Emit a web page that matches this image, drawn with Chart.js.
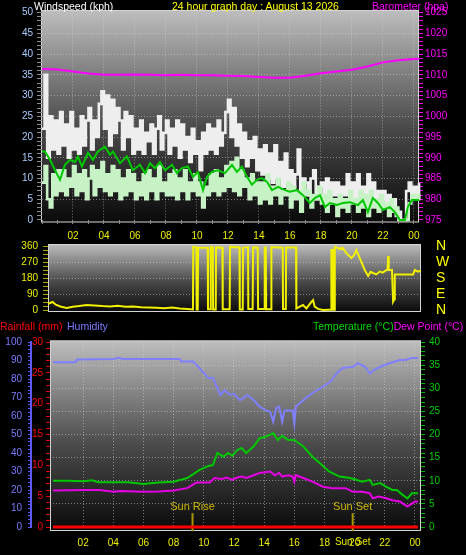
<!DOCTYPE html>
<html lang="en">
<head>
<meta charset="UTF-8">
<title>24 hour graph day</title>
<script src="https://cdn.jsdelivr.net/npm/chart.js@4.4.1/dist/chart.umd.min.js"></script>
<style>
  html, body { margin: 0; padding: 0; background: #000; width: 466px; height: 555px; overflow: hidden; }
  #wrap { position: relative; width: 466px; height: 555px; font-family: "Liberation Sans", Arial, sans-serif; }
  canvas { position: absolute; left: 0; top: 0; }
  .lbl { position: absolute; font-size: 10.5px; line-height: 13px; white-space: nowrap; }
</style>
</head>
<body>
<div id="wrap">
  <canvas id="windChart" width="466" height="555"></canvas>
  <canvas id="dirChart" width="466" height="555"></canvas>
  <canvas id="tempChart" width="466" height="555"></canvas>

  <div class="lbl" style="left:34px; top:0; color:#ffffff">Windspeed (kph)</div>
  <div class="lbl" style="left:172px; top:0; color:#ffff00">24 hour graph day : August 13 2026</div>
  <div class="lbl" style="left:372px; top:0; color:#ff00ff">Barometer (hpa)</div>
  <div class="lbl" style="left:0; top:320px; color:#ff0000">Rainfall (mm)</div>
  <div class="lbl" style="left:67px; top:320px; color:#7b7bff">Humidity</div>
  <div class="lbl" style="left:313px; top:320px"><span style="color:#00dd00">Temperature (°C)</span><span style="color:#ff00ff">Dew Point (°C)</span></div>
</div>

<script>
  // ---- wind, 10 minute readings from 00:00 ----
  const gustKph = [
    22, 35, 15, 25, 17, 24,  16, 26, 18, 23, 15, 26,  17, 22, 16, 25, 18, 24,
    27, 17, 24, 20, 28, 31,  22, 30, 18, 29, 21, 27,  24, 17, 26, 20, 25, 16,
    22, 17, 24, 16, 21, 19,  23, 16, 22, 25, 17, 21,  24, 16, 22, 18, 24, 15,
    23, 17, 20, 14, 22, 16,  19, 12, 21, 16, 23, 17,  22, 16, 24, 18, 21, 26,
    29, 20, 27, 18, 23, 15,  21, 13, 19, 15, 20, 12,  17, 11, 18, 10, 16, 9,
    18, 10, 14, 8, 16, 9,    12, 8, 11, 17, 7, 10,    9, 6, 10, 12, 5, 8,
    9, 5, 10, 4, 9, 6,       9, 4, 8, 6, 11, 5,       9, 5, 11, 4, 8, 5,
    11, 5, 9, 4, 7, 5,       7, 3, 6, 2, 5, 1,        2, 0, 0, 7, 9, 6,
    8, 5, 9
  ];
  const windKph = [
    9, 13, 5, 3, 11, 6,      12, 7, 12, 6, 10, 8,     13, 6, 11, 7, 12, 5,
    10, 13, 6, 12, 8, 14,    7, 11, 6, 13, 7, 12,     5, 10, 6, 12, 7, 11,
    5, 9, 6, 11, 5, 12,      7, 10, 5, 13, 7, 9,      6, 11, 6, 12, 5, 10,
    7, 12, 5, 9, 7, 11,      6, 9, 3, 8, 6, 11,       7, 12, 6, 10, 7, 13,
    8, 14, 7, 15, 6, 12,     8, 10, 5, 11, 6, 9,      4, 9, 5, 11, 4, 8,
    6, 10, 4, 7, 6, 9,       3, 8, 5, 7, 2, 9,        6, 7, 3, 6, 5, 8,
    4, 6, 2, 7, 4, 5,        1, 6, 3, 5, 2, 7,        4, 5, 2, 7, 3, 6,
    1, 7, 3, 5, 2, 6,        3, 4, 1, 5, 2, 3,        0, 0, 0, 0, 4, 6,
    5, 6, 5
  ];
  const avgHours = [0, 0.19, 0.52, 0.84, 1.16, 1.48, 1.81, 2.13, 2.32, 2.58, 2.97, 3.29, 3.61, 4.06, 4.39, 4.58,
    5.03, 5.48, 5.87, 6.32, 6.65, 6.97, 7.29, 7.61, 7.94, 8.39, 8.71, 9.03, 9.42, 9.74, 10.06, 10.39, 10.65,
    10.97, 11.35, 11.81, 12.26, 12.58, 12.9, 13.23, 13.55, 13.87, 14.19, 14.52, 14.84, 15.23, 15.68, 16.0,
    16.45, 16.84, 17.29, 17.61, 17.94, 18.26, 18.58, 19.03, 19.42, 19.87, 20.39, 20.71, 21.03, 21.35, 21.68,
    22.0, 22.45, 22.77, 23.1, 23.42, 23.61, 23.87, 24.19, 24.33];
  const avgKph = [16.5, 16.5, 14.5, 12, 9.7, 13.3, 14.5, 14, 15.3, 12.9, 16.2, 14.5, 16.5, 17.7, 15.7, 16.5,
    13.7, 15.3, 12, 13.3, 11.3, 13.7, 12.5, 14, 12, 13.3, 11.3, 12.5, 12.9, 10.4, 11.6, 7.2, 10.4,
    11.6, 12, 11.3, 13.3, 11.6, 12.9, 10.4, 8.5, 9.7, 10.1, 9.2, 7.2, 8, 7.2, 6.8,
    7.2, 6, 4.1, 5.3, 6, 3.1, 4.1, 3.6, 4.1, 4.3, 3.6, 4.8, 1.9, 5.3, 4.1,
    2.4, 3.1, 1.9, 0, 0, 3.1, 4.8, 4.8, 4.8];

  // ---- barometer ----
  const baroHours = [0, 1, 2, 3, 4, 5, 6, 7, 8, 9, 10, 11, 12, 13, 14, 15, 16, 17, 18, 19, 20, 21, 22, 23, 24, 24.33];
  const baroHpa = [1011.4, 1011.3, 1010.8, 1010.3, 1010.0, 1010.0, 1010.1, 1010.0, 1009.9, 1010.0, 1009.9, 1009.9,
    1009.8, 1009.7, 1009.5, 1009.3, 1009.3, 1009.8, 1010.4, 1010.8, 1011.2, 1012.0, 1013.0, 1013.5, 1013.8, 1013.9];

  // ---- wind direction ----
  const dirHours = [0, 0.3, 0.5, 0.8, 1.2, 1.6, 2.0, 2.5, 3.0, 3.5, 4.0, 4.5, 5.0, 5.5, 6.0, 6.5, 7.0, 7.5, 8.0,
    8.5, 9.0, 9.35, 9.37, 9.57, 9.59, 9.66, 9.68, 10.3, 10.32, 10.48, 10.5, 10.63, 10.65, 10.82, 10.84, 11.25,
    11.27, 11.72, 11.74, 12.35, 12.37, 12.56, 12.58, 12.9, 12.92, 13.2, 13.23, 13.53, 13.55, 13.96, 13.98, 14.05,
    14.07, 14.39, 14.41, 15.14, 15.16, 15.34, 15.36, 16.0, 16.02, 16.24, 16.45, 16.67, 16.99, 17.1, 17.2, 17.42,
    17.74, 18.17, 18.26, 18.28, 18.37, 18.39, 18.48, 18.5, 18.82, 19.0, 19.25, 19.57, 19.75, 19.89, 20.11, 20.43,
    20.65, 20.8, 20.97, 21.18, 21.4, 21.6, 21.83, 21.9, 21.94, 21.98, 22.19, 22.26, 22.33, 22.37, 23.55, 23.66,
    23.87, 24.06];
  const dirDeg = [35, 45, 30, 20, 12, 18, 22, 28, 25, 22, 20, 24, 18, 20, 15, 14, 12, 10, 14,
    8, 5, 3, 355, 352, 3, 3, 352, 350, 4, 4, 354, 352, 3, 3, 352, 350,
    4, 4, 355, 352, 3, 3, 350, 354, 5, 5, 352, 350, 6, 6, 352, 352,
    4, 4, 354, 350, 6, 6, 352, 352, 8, 19, 28, 9, 45, 56, 19, 6,
    0, 2, 2, 337, 337, 2, 2, 356, 343, 350, 320, 292, 310, 337, 292, 225,
    191, 215, 208, 200, 216, 210, 225, 225, 304, 225, 225, 47, 60, 200, 200, 225,
    216, 222];
  const compassLetters = ['N', 'E', 'S', 'W', 'N'];

  // ---- humidity / temperature / dew point / rain ----
  const humHours = [0, 1.5, 1.6, 4.0, 4.4, 4.6, 8.4, 8.5, 9.3, 9.8, 10.3, 10.6, 11.1, 11.4, 11.7, 12.0, 12.4,
    12.9, 13.3, 13.7, 14.1, 14.4, 14.6, 14.8, 15.0, 15.2, 15.35, 15.6, 15.9, 16.0, 16.1, 16.6, 17.2, 17.9, 18.4,
    18.8, 19.2, 19.9, 20.2, 20.7, 21.0, 21.3, 21.7, 22.3, 23.0, 23.4, 23.8, 24.2];
  const humPct = [89, 89, 90.5, 90.8, 91.5, 90.8, 90.8, 89.5, 89.5, 85, 80.5, 80.5, 71.4, 74, 71.5, 72, 68.6,
    71.4, 68.6, 65, 63.2, 62.3, 57, 64.3, 65, 57, 63, 63, 63, 56, 65, 68.6, 72.4, 75.8, 78.6,
    83, 86, 86.6, 88.5, 86.6, 83, 85, 86.6, 88.5, 90.3, 90.3, 91.4, 91.4];

  const tempHours = [0, 1, 2, 2.6, 3, 5, 6, 6.3, 7, 8, 8.9, 9.7, 10.3, 10.6, 10.9, 11.3, 11.6, 11.9, 12.2, 12.5,
    12.8, 13.3, 13.7, 14.1, 14.6, 14.9, 15.2, 15.6, 16.0, 16.6, 17.2, 17.7, 18.3, 19.0, 19.7, 20.1, 20.5, 21.0,
    21.2, 21.7, 22.1, 22.5, 22.8, 23.2, 23.5, 23.8, 24.2];
  const tempC = [10.0, 10.0, 9.9, 10.1, 9.7, 9.7, 9.3, 9.4, 9.6, 9.8, 10.6, 12.3, 13.2, 13.4, 16, 15.2, 16, 15.4, 16.6, 17.1,
    16, 17.4, 19.2, 19.5, 20.3, 18.8, 19.7, 18.8, 18.8, 17.4, 15.2, 13.8, 12, 10.9, 10.6, 10.2, 9.8, 10.2,
    9.1, 9.5, 8.7, 8.0, 8.0, 6.9, 6.2, 7.3, 7.3];

  const dewHours = [0, 2, 3.1, 4, 4.5, 6, 7, 8, 8.9, 9.5, 10.4, 10.7, 11.2, 11.5, 11.9, 12.2, 12.5, 12.8, 13.3,
    13.7, 14.4, 14.7, 15.0, 15.2, 15.6, 15.9, 16.0, 16.1, 16.6, 17.2, 17.9, 18.5, 19.4, 19.9, 20.5, 21.0, 21.2,
    21.6, 22.1, 22.5, 23.0, 23.5, 24.0, 24.2];
  const dewC = [7.9, 8.0, 8.0, 7.6, 7.8, 7.6, 7.7, 7.9, 8.4, 9.6, 9.6, 10.6, 10.4, 10.7, 10.2, 10.7, 10.9, 10.6, 11.2,
    11.7, 12.0, 11.2, 11.7, 10.9, 11.2, 10.9, 9.8, 11.2, 10.6, 9.8, 8.7, 8.4, 8.4, 7.6, 7.6, 7.3, 6.2,
    6.6, 6.2, 5.8, 5.5, 4.4, 5.5, 5.5];

  const rainHours = [0, 24.2];
  const rainMm = [0, 0];

  const sunHours = [9.25, 19.87];
  const sunNames = ['Sun Rise', 'Sun Set'];

  // ---- helpers ----
  Chart.defaults.font.family = '"Liberation Sans", Arial, sans-serif';
  Chart.defaults.font.size = 10;

  const CLEAR = 'rgba(0,0,0,0)';
  const GRID = 'rgba(215,215,215,0.5)';

  function pts(xs, ys) {
    return xs.map((x, i) => ({ x: x, y: ys[i] }));
  }
  function tenMinute(values) {
    return values.map((v, i) => ({ x: i / 6, y: v }));
  }
  function hh(v) {
    const h = Math.round(v) % 24;
    return (h < 10 ? '0' : '') + h;
  }
  function tickVal(c) {
    return c && c.tick ? c.tick.value : NaN;
  }

  // gradient plot background with a light frame
  const panelBg = {
    id: 'panelBg',
    beforeDraw(chart, args, opts) {
      const { ctx, chartArea: a } = chart;
      const x0 = a.left - (opts.l || 0), x1 = a.right + (opts.r || 0);
      const y0 = a.top - (opts.t || 0), y1 = a.bottom + (opts.b || 0);
      const g = ctx.createLinearGradient(0, y0, 0, y1);
      g.addColorStop(0, '#bebebe');
      g.addColorStop(0.55, '#4a4a4a');
      g.addColorStop(1, '#0a0a0a');
      ctx.save();
      ctx.fillStyle = g;
      ctx.fillRect(x0, y0, x1 - x0, y1 - y0);
      ctx.strokeStyle = '#d4d4d4';
      ctx.lineWidth = 1;
      ctx.strokeRect(x0 + 0.5, y0 + 0.5, x1 - x0 - 1, y1 - y0 - 1);
      ctx.restore();
    }
  };

  const baseOpts = {
    responsive: false,
    animation: false,
    devicePixelRatio: 1,
    events: [],
    plugins: { legend: { display: false }, tooltip: { enabled: false } }
  };

  // ================= wind speed + barometer =================
  new Chart(document.getElementById('windChart'), {
    type: 'line',
    data: {
      datasets: [
        { label: 'Average', data: pts(avgHours, avgKph), yAxisID: 'y', borderColor: '#00c800', borderWidth: 2, pointRadius: 0, clip: 4 },
        { label: 'Wind', data: tenMinute(windKph), yAxisID: 'y', borderColor: '#c6f2c6', borderWidth: 2.6, pointRadius: 0, stepped: true, clip: 4 },
        { label: 'Gust', data: tenMinute(gustKph), yAxisID: 'y', borderColor: '#eeeeee', borderWidth: 2.6, pointRadius: 0, stepped: true, clip: 4 },
        { label: 'Barometer', data: pts(baroHours, baroHpa), yAxisID: 'baro', borderColor: '#ff00ff', borderWidth: 2, pointRadius: 0, clip: 4 }
      ]
    },
    options: Object.assign({}, baseOpts, {
      layout: { padding: { top: 12.6, bottom: 315, left: 0, right: 0 } },
      plugins: Object.assign({}, baseOpts.plugins, { panelBg: { t: 2.6, b: 2.5, l: 1, r: 0 } }),
      scales: {
        x: {
          type: 'linear', min: 0, max: 24.33,
          afterFit: s => { s.height = 20; },
          grid: {
            color: c => (tickVal(c) % 2 === 0 && tickVal(c) > 0) ? GRID : CLEAR,
            tickColor: '#8c8c8c', tickLength: 4
          },
          border: { display: false, dash: [1, 2] },
          ticks: {
            stepSize: 1, autoSkip: false, includeBounds: false, maxRotation: 0,
            color: '#eeee00', padding: 6,
            callback: v => (v % 2 === 0 && v > 0) ? hh(v) : ''
          }
        },
        y: {
          position: 'left', min: 0, max: 50,
          afterFit: s => { s.width = 42; },
          grid: {
            color: c => (tickVal(c) % 5 === 0 && tickVal(c) > 0 && tickVal(c) < 50) ? GRID : CLEAR,
            tickColor: '#8c8c8c', tickLength: 5
          },
          border: { display: false, dash: [1, 2] },
          ticks: {
            stepSize: 1, autoSkip: false, color: '#a8ccff', padding: 4,
            callback: v => v % 5 === 0 ? String(v) : ''
          }
        },
        baro: {
          position: 'right', min: 975, max: 1025,
          afterFit: s => { s.width = 47; },
          grid: { drawOnChartArea: false, tickColor: '#ff00ff', tickLength: 4 },
          border: { display: false },
          ticks: {
            stepSize: 1, autoSkip: false, color: '#ff00ff', padding: 2,
            callback: v => v % 5 === 0 ? String(v) : ''
          }
        }
      }
    }),
    plugins: [panelBg]
  });

  // ================= wind direction =================
  new Chart(document.getElementById('dirChart'), {
    type: 'line',
    data: {
      datasets: [
        { label: 'Direction', data: pts(dirHours, dirDeg), yAxisID: 'y', borderColor: '#f0f000', borderWidth: 2, pointRadius: 0, clip: 4 }
      ]
    },
    options: Object.assign({}, baseOpts, {
      layout: { padding: { top: 246, bottom: 245, left: 0, right: 0 } },
      plugins: Object.assign({}, baseOpts.plugins, { panelBg: { t: 2, b: 2, l: 0, r: 0 } }),
      scales: {
        x: { type: 'linear', display: false, min: 0, max: 24.06 },
        y: {
          position: 'left', min: 0, max: 360,
          afterFit: s => { s.width = 48; },
          grid: {
            color: c => (tickVal(c) % 90 === 0 && tickVal(c) > 0 && tickVal(c) < 360) ? GRID : CLEAR,
            tickColor: '#a8a800', tickLength: 5
          },
          border: { display: false, dash: [1, 2] },
          ticks: {
            stepSize: 22.5, autoSkip: false, color: '#eeee00', padding: 5,
            callback: v => v % 90 === 0 ? String(v) : ''
          }
        },
        compass: {
          position: 'right', min: 0, max: 360,
          afterFit: s => { s.width = 45; },
          grid: { drawOnChartArea: false, drawTicks: false },
          border: { display: false },
          ticks: {
            stepSize: 90, autoSkip: false, color: '#ffff00', padding: 15, font: { size: 14 },
            callback: v => compassLetters[Math.round(v / 90)]
          }
        }
      }
    }),
    plugins: [panelBg]
  });

  // ================= humidity / temperature / rain =================
  const sunText = {
    id: 'sunText',
    afterDatasetsDraw(chart) {
      const { ctx, scales } = chart;
      ctx.save();
      ctx.textAlign = 'center';
      ctx.textBaseline = 'middle';
      sunHours.forEach((h, i) => {
        const x = scales.x.getPixelForValue(h);
        ctx.font = '11px "Liberation Sans", Arial, sans-serif';
        ctx.fillStyle = '#cdb800';
        ctx.fillText(sunNames[i], x, scales.temp.getPixelForValue(3) - 6);
      });
      // the sunset name also lands on the hour row, over "20"
      ctx.font = '10px "Liberation Sans", Arial, sans-serif';
      ctx.fillStyle = '#e6e600';
      ctx.fillText(sunNames[1], scales.x.getPixelForValue(sunHours[1]), scales.x.top + 15);
      ctx.restore();
    }
  };

  const sunSets = sunHours.map(h => ({
    label: 'sun', data: pts([h, h], [-0.9, 3]), yAxisID: 'temp',
    borderColor: '#a89800', borderWidth: 2, pointRadius: 0, clip: 6
  }));

  new Chart(document.getElementById('tempChart'), {
    type: 'line',
    data: {
      datasets: [
        { label: 'Rainfall', data: pts(rainHours, rainMm), yAxisID: 'rain', borderColor: '#ff0000', borderWidth: 3, pointRadius: 0, clip: 4 },
        { label: 'Temperature', data: pts(tempHours, tempC), yAxisID: 'temp', borderColor: '#00c800', borderWidth: 2, pointRadius: 0, clip: 4 },
        { label: 'Dew Point', data: pts(dewHours, dewC), yAxisID: 'temp', borderColor: '#e600e6', borderWidth: 2, pointRadius: 0, clip: 4 },
        { label: 'Humidity', data: pts(humHours, humPct), yAxisID: 'hum', borderColor: '#8080ff', borderWidth: 2, pointRadius: 0, clip: 4 }
      ].concat(sunSets)
    },
    options: Object.assign({}, baseOpts, {
      layout: { padding: { top: 342, bottom: 6, left: 0, right: 0 } },
      plugins: Object.assign({}, baseOpts.plugins, { panelBg: { t: 1.5, b: 4, l: 0, r: 0 } }),
      scales: {
        x: {
          type: 'linear', min: -0.2, max: 24.4,
          afterFit: s => { s.height = 22; },
          grid: {
            color: c => (tickVal(c) % 2 === 0 && tickVal(c) > 0) ? GRID : CLEAR,
            drawTicks: false
          },
          border: { display: false, dash: [1, 2] },
          ticks: {
            stepSize: 1, autoSkip: false, includeBounds: false, maxRotation: 0,
            color: '#eeee00', padding: 10,
            callback: v => (v % 2 === 0 && v > 0) ? hh(v) : ''
          }
        },
        hum: {
          position: 'left', weight: 1, min: 0, max: 100,
          afterFit: s => { s.width = 31; },
          grid: { drawOnChartArea: false, tickColor: '#5a5aff', tickLength: 3 },
          border: { display: true, color: '#5a5aff', width: 2 },
          ticks: {
            stepSize: 2, autoSkip: false, color: '#7b7bff', padding: 6,
            callback: v => v % 10 === 0 ? String(v) : ''
          }
        },
        rain: {
          position: 'left', weight: 0, min: 0, max: 30,
          afterFit: s => { s.width = 19; },
          grid: { drawOnChartArea: false, tickColor: '#e00000', tickLength: 4 },
          border: { display: false },
          ticks: {
            stepSize: 1, autoSkip: false, color: '#ff0000', padding: 3,
            callback: v => v % 5 === 0 ? String(v) : ''
          }
        },
        temp: {
          position: 'right', min: 0, max: 40,
          afterFit: s => { s.width = 45; },
          grid: {
            color: c => (tickVal(c) % 5 === 0 && tickVal(c) > 0 && tickVal(c) < 40) ? GRID : CLEAR,
            tickColor: '#00b000', tickLength: 4
          },
          border: { display: false, dash: [1, 2] },
          ticks: {
            stepSize: 1, autoSkip: false, color: '#00cc00', padding: 4,
            callback: v => v % 5 === 0 ? String(v) : ''
          }
        }
      }
    }),
    plugins: [panelBg, sunText]
  });
</script>
</body>
</html>
